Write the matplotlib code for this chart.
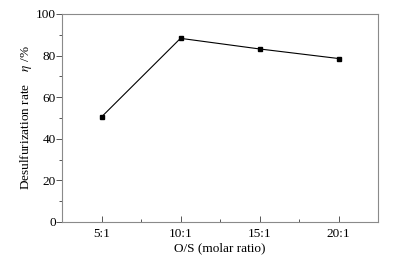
import matplotlib
matplotlib.use("Agg")
import matplotlib.pyplot as plt
from matplotlib.ticker import MultipleLocator, FixedLocator

categories = ["5:1", "10:1", "15:1", "20:1"]
eta = [50.5, 88.3, 83.2, 78.6]

plt.rcParams['font.family'] = ['Liberation Serif', 'DejaVu Serif']
plt.rcParams['mathtext.fontset'] = 'stix'

fig = plt.figure(figsize=(3.95, 2.6), dpi=100)
ax = fig.add_axes([62/395, 1-222/260, (378-62)/395, (222-14)/260])

x = list(range(1, len(categories)+1))
ax.plot(x, eta, color='black', lw=0.8, marker='s', markersize=3.2)

ax.set_xlim(0.5, 4.5)
ax.set_ylim(0, 100)
ax.set_xticks(x)
ax.set_xticklabels(categories)
ax.xaxis.set_minor_locator(FixedLocator([1.5, 2.5, 3.5]))
ax.yaxis.set_major_locator(MultipleLocator(20))
ax.yaxis.set_minor_locator(MultipleLocator(10))

for s in ax.spines.values():
    s.set_color('#8a8a8a')
    s.set_linewidth(0.8)

fs = 9.5
ax.tick_params(axis='x', which='major', direction='in', length=4, width=0.7, color='#555555', labelsize=fs, pad=4)
ax.tick_params(axis='x', which='minor', direction='in', length=2.5, width=0.7, color='#555555')
ax.tick_params(axis='y', which='major', direction='out', length=4, width=0.7, color='#555555', labelsize=fs, pad=0.5)
ax.tick_params(axis='y', which='minor', direction='out', length=2.5, width=0.7, color='#555555')

ax.set_xlabel("O/S (molar ratio)", fontsize=fs, labelpad=2)
ax.set_ylabel(r"Desulfurization rate    $\eta$ /%", fontsize=fs)
ax.yaxis.set_label_coords(-0.088, 0.5)

fig.savefig("out.png", dpi=100)
